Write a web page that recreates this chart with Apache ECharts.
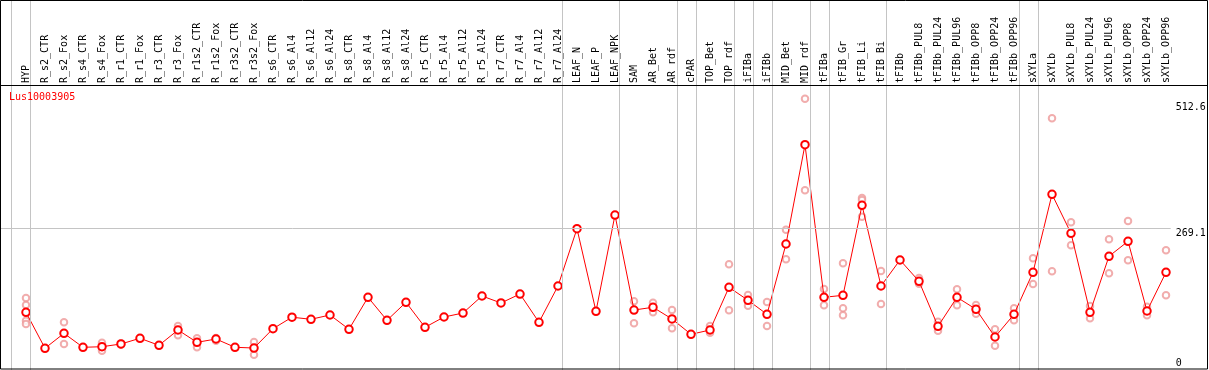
<!DOCTYPE html>
<html>
<head>
<meta charset="utf-8">
<script src="https://cdn.jsdelivr.net/npm/echarts@6/dist/echarts.min.js"></script>
<style>
html,body{margin:0;padding:0;background:#fff;}
#chart{width:1209px;height:370px;}
</style>
</head>
<body>
<div id="chart"></div>
<script>
const seriesName = 'Lus10003905';
const categories = ['HYP','R_s2_CTR','R_s2_Fox','R_s4_CTR','R_s4_Fox','R_r1_CTR','R_r1_Fox','R_r3_CTR','R_r3_Fox',
  'R_r1s2_CTR','R_r1s2_Fox','R_r3s2_CTR','R_r3s2_Fox','R_s6_CTR','R_s6_Al4','R_s6_Al12','R_s6_Al24',
  'R_s8_CTR','R_s8_Al4','R_s8_Al12','R_s8_Al24','R_r5_CTR','R_r5_Al4','R_r5_Al12','R_r5_Al24',
  'R_r7_CTR','R_r7_Al4','R_r7_Al12','R_r7_Al24','LEAF_N','LEAF_P','LEAF_NPK','SAM','AR_Bet','AR_rdf',
  'cPAR','TOP_Bet','TOP_rdf','iFIBa','iFIBb','MID_Bet','MID_rdf','tFIBa','tFIB_Gr','tFIB_Li','tFIB_Bi',
  'tFIBb','tFIBb_PUL8','tFIBb_PUL24','tFIBb_PUL96','tFIBb_OPP8','tFIBb_OPP24','tFIBb_OPP96',
  'sXYLa','sXYLb','sXYLb_PUL8','sXYLb_PUL24','sXYLb_PUL96','sXYLb_OPP8','sXYLb_OPP24','sXYLb_OPP96'];
const means = [107.6,38.1,67.0,40.0,41.1,46.4,57.4,43.8,73.4,
  49.6,56.0,40.0,38.6,75.9,98.1,94.1,102.4,
  74.8,136.6,92.1,126.9,78.6,98.5,106.2,139.1,
  125.6,142.9,88.3,158.4,269.1,109.5,295.5,112.0,117.3,94.7,
  65.1,73.4,155.9,130.8,103.7,239.5,431.3,136.6,140.4,314.3,158.4,
  208.6,167.5,80.5,136.6,113.4,59.9,103.7,
  184.9,335.5,260.2,107.6,215.8,244.7,110.1,184.9];
const replicates = [[135.2,121.7,91.4,85.0],[],[88.3,46.4],[],[48.9,33.4],[47.5,45.0],[],[],[81.1,63.2],
  [57.4,40.0],[58.0,52.7],[],[50.2,25.7],[],[],[],[],
  [],[],[],[],[],[],[],[],
  [],[],[],[],[],[],[],[128.8,86.3],[126.1,107.6],[112.0,76.7],
  [],[81.1,68.2],[200.3,111.5],[141.0,120.3],[127.5,81.1],[267.1,210.0],[520.2,343.2],[152.6,121.1],[202.4,115.3,101.8],[328.4,324.5,292.3],[187.4,123.6],
  [],[173.8,162.8],[89.4,72.0],[152.0,121.1],[121.7,104.9],[74.8,43.1],[115.3,92.1],
  [211.9,162.3],[482.3,186.8],[281.4,237.0],[119.8,96.0],[248.6,182.9],[284.0,208.0],[118.4,101.8],[227.4,140.4]];
const groupEnds = [-1,0,28,31,34,35,37,38,39,41,42,45,52,53,60];
const yTicks = [0,269.1,512.6];

const lineData = means.map((v,i)=>[i,v]);
const repData = replicates.flatMap((arr,i)=>arr.map(v=>[i,v]));
const catIdx = categories.map((c,i)=>i);
const mono = 'DejaVu Sans Mono';

const chart = echarts.init(document.getElementById('chart'), null, {renderer:'canvas'});
chart.setOption({
  animation:false,
  backgroundColor:'#fff',
  title:{text:seriesName,left:9,top:92,padding:0,
    textStyle:{color:'#ff0000',fontSize:10,fontFamily:mono,fontWeight:'normal'}},
  grid:{left:0,right:38.3,top:0,bottom:0,containLabel:false},
  xAxis:{type:'value',min:-1.368,max:60.247,position:'top',offset:-85,
    axisLine:{show:false},axisTick:{show:false},splitLine:{show:false},
    axisLabel:{customValues:catIdx,rotate:90,margin:2,color:'#000',fontSize:10,fontFamily:mono,
      hideOverlap:false,showMinLabel:true,showMaxLabel:true,
      formatter:v=>categories[Math.round(v)]}},
  yAxis:{type:'value',min:-3.863,max:710.84,position:'right',
    axisLine:{show:false},axisTick:{show:false},splitLine:{show:false},
    axisLabel:{customValues:yTicks,margin:5,color:'#000',fontSize:10,fontFamily:mono,
      verticalAlign:'top',verticalAlignMinLabel:'bottom',showMinLabel:true,showMaxLabel:true,
      formatter:v=>String(v)}},
  series:[
    {type:'scatter',name:'rep',data:repData,symbol:'emptyCircle',symbolSize:6.5,z:2,
      itemStyle:{color:'#ee9999',borderColor:'#ee9999',borderWidth:1},
      markLine:{silent:true,symbol:'none',label:{show:false},animation:false,
        lineStyle:{color:'#c4c4c4',type:'solid',width:1},
        data:groupEnds.map(g=>({xAxis:g+0.247})).concat([{yAxis:yTicks[1]}])}},
    {type:'line',name:seriesName,data:lineData,symbol:'emptyCircle',symbolSize:7.5,z:3,
      lineStyle:{color:'#ff0000',width:1},
      itemStyle:{color:'#ff0000',borderColor:'#ff0000',borderWidth:1.3}}
  ],
  graphic:[
    {type:'rect',silent:true,z:100,shape:{x:0.5,y:0.5,width:1207,height:368.5},
      style:{fill:null,stroke:'#000',lineWidth:1}},
    {type:'line',silent:true,z:100,shape:{x1:0,y1:85.5,x2:1208,y2:85.5},
      style:{stroke:'#000',lineWidth:1}}
  ]
});
</script>
</body>
</html>
